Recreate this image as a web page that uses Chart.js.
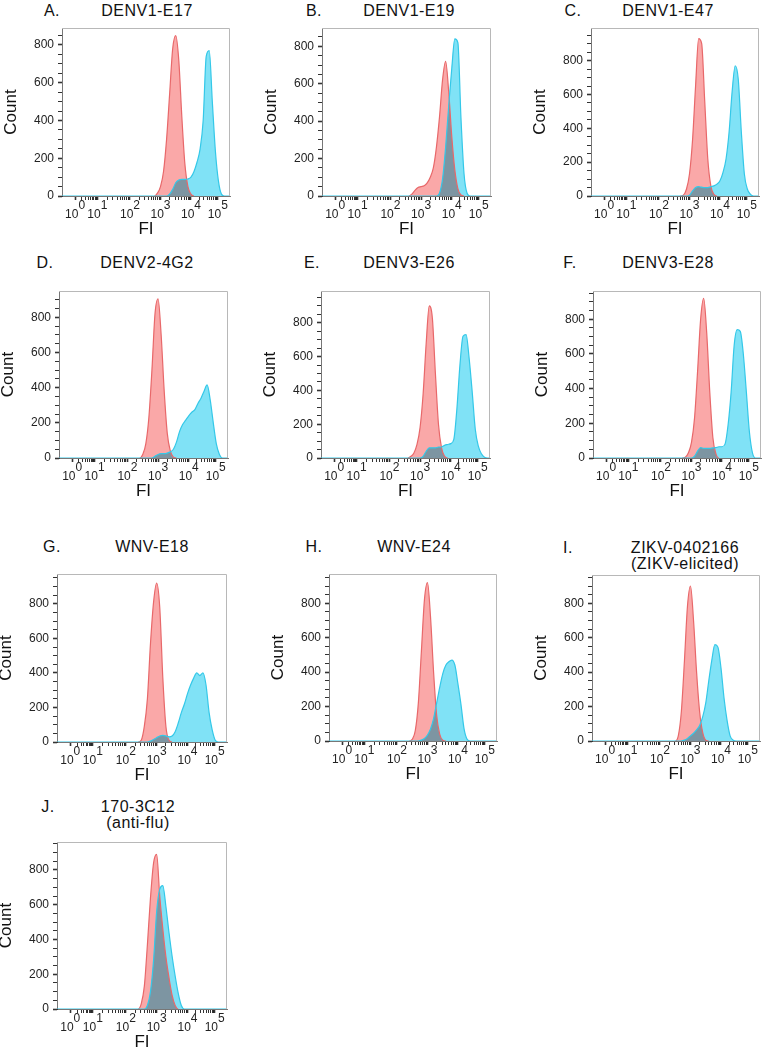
<!DOCTYPE html>
<html>
<head>
<meta charset="utf-8">
<script src="https://cdn.jsdelivr.net/npm/chart.js@4.4.1/dist/chart.umd.min.js"></script>
<style>
html, body { margin: 0; padding: 0; background: #fff; overflow: hidden; width: 762px; height: 1050px; }
body { position: relative; font-family: 'Liberation Sans', Arial, sans-serif; color: #111; }
canvas { position: absolute; }
.lbl { position: absolute; font-size: 16px; letter-spacing: 0.5px; white-space: nowrap; line-height: 1; transform: translate(-50%, -50%); }
</style>
</head>
<body>
<script>
// FI grid in log10 units (display axis), shared by all histograms
const fiGrid = [2.0, 2.1, 2.2, 2.3, 2.4, 2.5, 2.6, 2.7, 2.8, 2.9,
                3.0, 3.1, 3.2, 3.3, 3.4, 3.5, 3.6, 3.7, 3.8, 3.9,
                4.0, 4.1, 4.2, 4.3, 4.4, 4.5, 4.6, 4.7, 4.8, 4.9,
                5.0, 5.1, 5.2];
const fiMin = -0.23, fiMax = 5.28;
const decadePos = [0.2, 0.93, 2, 3, 4, 4.88];
const decadeExp = ['0', '1', '2', '3', '4', '5'];   // tick labels 10^0 ... 10^5
const countLabels = [0, 200, 400, 600, 800];

const panelLetters = ['A.', 'B.', 'C.', 'D.', 'E.', 'F.', 'G.', 'H.', 'I.', 'J.'];
const panelNames = ['DENV1-E17', 'DENV1-E19', 'DENV1-E47', 'DENV2-4G2', 'DENV3-E26',
                    'DENV3-E28', 'WNV-E18', 'WNV-E24', 'ZIKV-0402166', '170-3C12'];
const panelNotes = ['', '', '', '', '', '', '', '', '(ZIKV-elicited)', '(anti-flu)'];
const countMax = [890, 898, 993, 949, 988, 963, 973, 970, 964, 961];

// red = control, cyan = stained (counts at fiGrid)
const ctrlA  = [0,0,0,0,0,0,0,0,0,15, 50,130,300,540,780,850,720,420,170,50, 10,0,0,0,0,0,0,0,0,0, 0,0,0];
const stainA = [0,0,0,0,0,0,0,0,0,0, 0,0,0,10,35,70,85,88,88,90, 100,130,180,250,400,740,770,500,240,80, 10,0,0];
const ctrlB  = [0,0,0,0,0,0,0,10,30,45, 50,55,70,100,150,260,420,620,720,560, 320,140,40,5,0,0,0,0,0,0, 0,0,0];
const stainB = [0,0,0,0,0,0,0,0,0,0, 0,0,0,0,0,0,15,90,260,480, 680,840,820,420,120,15,0,0,0,0, 0,0,0];
const ctrlC  = [0,0,0,0,0,0,0,0,5,40, 130,330,650,930,900,560,220,60,10,0, 0,0,0,0,0,0,0,0,0,0, 0,0,0];
const stainC = [0,0,0,0,0,0,0,0,0,0, 5,30,50,55,52,50,50,55,60,70, 90,140,220,380,620,770,690,380,130,40, 10,0,0];
const ctrlD  = [0,0,0,0,0,20,80,230,500,820, 905,700,380,140,40,5,0,0,0,0, 0,0,0,0,0,0,0,0,0,0, 0,0,0];
const stainD = [0,0,0,0,0,0,0,0,0,10, 20,25,25,28,35,50,90,150,190,215, 240,260,275,310,340,380,415,330,200,80, 20,0,0];
const ctrlE  = [0,0,0,0,0,0,0,10,30,80, 180,380,680,900,830,500,200,60,10,0, 0,0,0,0,0,0,0,0,0,0, 0,0,0];
const stainE = [0,0,0,0,0,0,0,0,0,0, 0,10,40,60,60,60,65,65,75,80, 85,110,290,550,720,730,590,390,170,70, 25,5,0];
const ctrlF  = [0,0,0,0,0,0,0,0,5,30, 90,230,500,800,920,720,380,120,25,0, 0,0,0,0,0,0,0,0,0,0, 0,0,0];
const stainF = [0,0,0,0,0,0,0,0,0,0, 0,10,40,60,55,55,55,58,60,65, 65,80,190,380,650,740,730,600,380,150, 30,0,0];
const ctrlG  = [0,0,0,0,0,10,90,250,570,810, 920,780,370,90,10,0,0,0,0,0, 0,0,0,0,0,0,0,0,0,0, 0,0,0];
const stainG = [0,0,0,0,0,0,0,0,5,15, 25,35,38,35,30,35,60,110,170,220, 280,330,370,400,385,400,330,170,70,10, 0,0,0];
const ctrlH  = [0,0,0,0,0,10,60,220,520,820, 920,720,400,150,40,5,0,0,0,0, 0,0,0,0,0,0,0,0,0,0, 0,0,0];
const stainH = [0,0,0,0,0,0,0,0,5,15, 35,70,130,220,310,390,440,460,470,440, 330,210,70,10,0,0,0,0,0,0, 0,0,0];
const ctrlI  = [0,0,0,0,0,0,30,170,460,780, 900,700,400,170,50,5,0,0,0,0, 0,0,0,0,0,0,0,0,0,0, 0,0,0];
const stainI = [0,0,0,0,0,0,0,0,5,15, 30,45,65,90,140,220,350,470,560,545, 425,250,120,30,5,0,0,0,0,0, 0,0,0];
const ctrlJ  = [0,0,0,0,0,30,130,370,640,840, 890,650,460,300,180,80,20,0,0,0, 0,0,0,0,0,0,0,0,0,0, 0,0,0];
const stainJ = [0,0,0,0,0,0,0,20,100,280, 560,690,710,590,440,305,190,90,20,0, 0,0,0,0,0,0,0,0,0,0, 0,0,0];

const ctrlSeries  = [ctrlA, ctrlB, ctrlC, ctrlD, ctrlE, ctrlF, ctrlG, ctrlH, ctrlI, ctrlJ];
const stainSeries = [stainA, stainB, stainC, stainD, stainE, stainF, stainG, stainH, stainI, stainJ];

// layout: plot box [left, top, width, height] and title placement [letterX, nameX, y]
const boxes = [
  [62, 28, 168, 168], [322, 28, 169, 168], [591, 28, 168, 168],
  [59, 291, 169, 167], [321, 291, 169, 167], [593, 291, 168, 167],
  [57, 574, 170, 168], [329, 574, 168, 167], [592, 575, 168, 166],
  [57, 842, 170, 167]
];
const titlePos = [
  [52, 147, 11], [314, 409, 11], [573, 668, 11],
  [45, 147, 263], [312, 409, 263], [570, 668, 263],
  [52, 152, 547], [314, 414, 547], [568, 685, 548],
  [48, 138, 807]
];

const FONT = "'Liberation Sans', Arial, sans-serif";
const AXIS_W = 62, AXIS_H = 44, PAD_R = 10;
const FIG = '\u2007';  // figure space, one digit wide

function addText(txt, x, y) {
  const d = document.createElement('div');
  d.className = 'lbl';
  d.textContent = txt;
  d.style.left = x + 'px';
  d.style.top = y + 'px';
  document.body.appendChild(d);
}

function toPoints(vals) {
  const pts = [{x: fiMin, y: 0}];
  vals.forEach((v, k) => pts.push({x: fiGrid[k], y: v}));
  pts.push({x: fiMax, y: 0});
  return pts;
}

const isDecade = v => decadePos.some(p => Math.abs(p - v) < 1e-6);

const blendPlugin = {
  id: 'blend',
  beforeDraw(chart) {
    const ctx = chart.ctx;
    ctx.save();
    ctx.fillStyle = '#fff';
    ctx.fillRect(0, 0, chart.width, chart.height);
    ctx.restore();
    ctx.globalCompositeOperation = 'multiply';   // fills blend like the overlay
  },
  beforeDatasetsDraw(chart) {
    chart.ctx.globalCompositeOperation = 'source-over';  // lines drawn normally
  },
  afterDraw(chart) {
    const {ctx, chartArea: a} = chart;
    ctx.save();
    ctx.strokeStyle = '#b8b8b8';
    ctx.lineWidth = 1;
    ctx.beginPath();
    ctx.moveTo(a.left, a.top + 0.5);
    ctx.lineTo(a.right - 0.5, a.top + 0.5);
    ctx.lineTo(a.right - 0.5, a.bottom);
    ctx.stroke();
    ctx.restore();
  }
};

panelNames.forEach((name, i) => {
  const [L, T, W, H] = boxes[i];
  const [lx, nx, ty] = titlePos[i];
  addText(panelLetters[i], lx, ty);
  addText(name, nx, ty);
  if (panelNotes[i]) addText(panelNotes[i], nx, ty + 16);

  const cv = document.createElement('canvas');
  cv.width = AXIS_W + W + PAD_R;
  cv.height = H + AXIS_H;
  cv.style.left = (L - AXIS_W) + 'px';
  cv.style.top = T + 'px';
  document.body.appendChild(cv);

  new Chart(cv.getContext('2d'), {
    type: 'line',
    data: {
      datasets: [{
        label: 'stained',
        data: toPoints(stainSeries[i]),
        borderColor: 'rgb(52,200,232)',
        backgroundColor: 'rgb(128,226,246)',
        borderWidth: 1.2,
        fill: 'origin',
        pointRadius: 0,
        cubicInterpolationMode: 'monotone'
      }, {
        label: 'control',
        data: toPoints(ctrlSeries[i]),
        borderColor: 'rgb(232,104,106)',
        backgroundColor: 'rgb(250,168,168)',
        borderWidth: 1.2,
        fill: 'origin',
        pointRadius: 0,
        cubicInterpolationMode: 'monotone',
        segment: {
          borderColor: c => (c.p0.parsed.y === 0 && c.p1.parsed.y === 0) ? 'rgba(0,0,0,0)' : 'rgb(232,104,106)'
        }
      }]
    },
    options: {
      responsive: false,
      animation: false,
      layout: { padding: { left: 0, top: 0, right: PAD_R, bottom: 0 } },
      plugins: {
        legend: { display: false },
        tooltip: { enabled: false },
        filler: { drawTime: 'beforeDatasetsDraw' }
      },
      scales: {
        x: {
          type: 'linear',
          min: fiMin,
          max: fiMax,
          afterBuildTicks: function (scale) {
            const t = [];
            decadePos.forEach((p, k) => {
              t.push({ value: p });
              if (k < decadePos.length - 1) {
                for (let m = 2; m < 10; m++) {
                  t.push({ value: p + Math.log10(m) * (decadePos[k + 1] - p) });
                }
              }
            });
            scale.ticks = t;
          },
          afterFit: function (scale) {
            scale.height = AXIS_H;
            scale.paddingLeft = 0;
            scale.paddingRight = 0;
          },
          ticks: {
            autoSkip: false,
            maxRotation: 0,
            padding: 1,
            color: '#222',
            font: { family: FONT, size: 12, lineHeight: 0.75 },
            callback: function (v) {
              const k = decadePos.findIndex(p => Math.abs(p - v) < 1e-6);
              // exponent on a raised line, right of the "10"
              return k >= 0 ? [FIG + FIG + decadeExp[k], '10' + FIG] : '';
            }
          },
          grid: {
            drawOnChartArea: false,
            drawTicks: true,
            tickLength: 4,
            tickColor: '#333',
            tickWidth: c => (c.tick && isDecade(c.tick.value)) ? 1.6 : 1
          },
          border: { color: '#777', width: 1 },
          title: {
            display: true,
            text: 'FI',
            color: '#111',
            font: { family: FONT, size: 17 },
            padding: { top: 0, bottom: 0 }
          }
        },
        y: {
          min: 0,
          max: countMax[i],
          afterBuildTicks: function (scale) {
            const t = [];
            for (let v = 0; v <= scale.max; v += 50) t.push({ value: v });
            scale.ticks = t;
          },
          afterFit: function (scale) {
            scale.width = AXIS_W;
            scale.paddingTop = 0;
            scale.paddingBottom = 0;
          },
          ticks: {
            autoSkip: false,
            padding: 4,
            color: '#222',
            font: { family: FONT, size: 12 },
            callback: v => countLabels.includes(v) ? String(v) : ''
          },
          grid: {
            drawOnChartArea: false,
            drawTicks: true,
            tickLength: 4,
            tickColor: '#333',
            tickWidth: c => (c.tick && c.tick.value % 200 === 0) ? 1.6 : 1
          },
          border: { color: '#777', width: 1 },
          title: {
            display: true,
            text: 'Count',
            color: '#111',
            font: { family: FONT, size: 17 },
            padding: { top: 1, bottom: 0 }
          }
        }
      }
    },
    plugins: [blendPlugin]
  });
});
</script>
</body>
</html>
